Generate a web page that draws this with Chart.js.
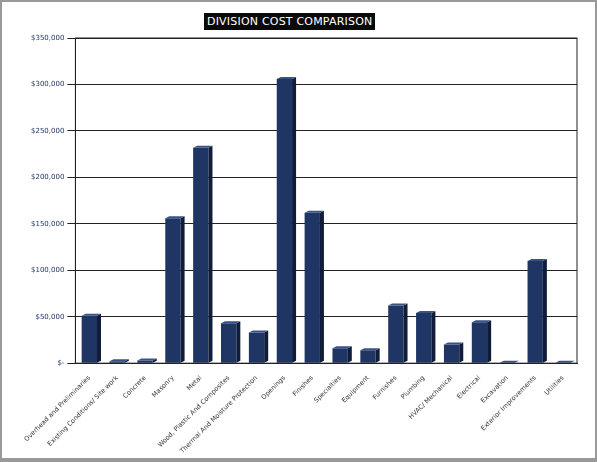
<!DOCTYPE html>
<html>
<head>
<meta charset="utf-8">
<script src="https://cdn.jsdelivr.net/npm/chart.js@4"></script>
<style>
  body { margin: 0; background: #fff; }
  #wrap { position: relative; width: 593px; height: 456px; border: 2px solid #999; border-bottom-width: 4px; }
  #title { position: absolute; left: 202px; top: 11px; background: #0a0a0a; color: #fff;
           font: 11px 'DejaVu Sans', sans-serif; padding: 2px 3px; letter-spacing: 0.2px; }
</style>
</head>
<body>
<div id="wrap">
  <canvas id="c" width="593" height="456"></canvas>
  <div id="title">DIVISION COST COMPARISON</div>
</div>
<script>
/* ---- data ---- */
const categories = [
    'Overhead and Preliminaries', 'Existing Conditions/ Site work', 'Concrete', 'Masonry', 'Metal',
    'Wood, Plastic And Composites', 'Thermal And Moisture Protection', 'Openings', 'Finishes',
    'Specialties', 'Equipment', 'Furnishes', 'Plumbing', 'HVAC/ Mechanical', 'Electrical',
    'Excavation', 'Exterior Improvements', 'Utilities'
];
const costs = [51000, 2000, 3000, 156000, 232000, 43000, 33000, 306000, 162000,
    16000, 14000, 62000, 54000, 20000, 44000, 500, 110000, 500];
const yTicks = [0, 50000, 100000, 150000, 200000, 250000, 300000, 350000];

/* ---- fake 3D side/top faces ---- */
const bar3d = {
    id: 'bar3d',
    afterDatasetsDraw(chart) {
        const ctx = chart.ctx;
        const d = 4;
        chart.getDatasetMeta(0).data.forEach(b => {
            const l = b.x - b.width / 2, r = b.x + b.width / 2;
            ctx.save();
            ctx.fillStyle = '#0f1d3a';
            ctx.beginPath();
            ctx.moveTo(r, b.y); ctx.lineTo(r + d, b.y - 2); ctx.lineTo(r + d, b.base - 2); ctx.lineTo(r, b.base);
            ctx.closePath(); ctx.fill();
            ctx.fillStyle = '#3a5283';
            ctx.beginPath();
            ctx.moveTo(l, b.y); ctx.lineTo(l + d, b.y - 2); ctx.lineTo(r + d, b.y - 2); ctx.lineTo(r, b.y);
            ctx.closePath(); ctx.fill();
            ctx.restore();
        });
    }
};

const font = { family: 'DejaVu Sans', size: 7 };

new Chart(document.getElementById('c'), {
    type: 'bar',
    data: {
        labels: categories,
        datasets: [{ data: costs, backgroundColor: '#1f3564', barPercentage: 0.55, categoryPercentage: 1 }]
    },
    options: {
        responsive: false,
        animation: false,
        layout: { padding: { top: 36, right: 18, left: 26, bottom: 0 } },
        plugins: { legend: { display: false }, tooltip: { enabled: false } },
        scales: {
            y: {
                min: 0, max: 350000,
                afterBuildTicks: s => { s.ticks = yTicks.map(v => ({ value: v })); },
                ticks: {
                    color: '#1f3564', font: font,
                    callback: v => v === 0 ? '$-' : '$' + v.toLocaleString('en-US')
                },
                grid: { color: '#222', lineWidth: 1, drawTicks: true, tickLength: 8 },
                border: { color: '#222' }
            },
            x: {
                ticks: { color: '#333', font: { family: 'DejaVu Sans', size: 6.5 }, maxRotation: 45, minRotation: 45, autoSkip: false },
                grid: { display: false },
                border: { color: '#222' }
            }
        }
    },
    plugins: [bar3d, {
        id: 'frame',
        afterDraw(chart) {
            const a = chart.chartArea, ctx = chart.ctx;
            ctx.save();
            ctx.strokeStyle = '#222';
            ctx.strokeRect(a.left, a.top, a.right - a.left, a.bottom - a.top);
            ctx.restore();
        }
    }]
});
</script>
</body>
</html>
